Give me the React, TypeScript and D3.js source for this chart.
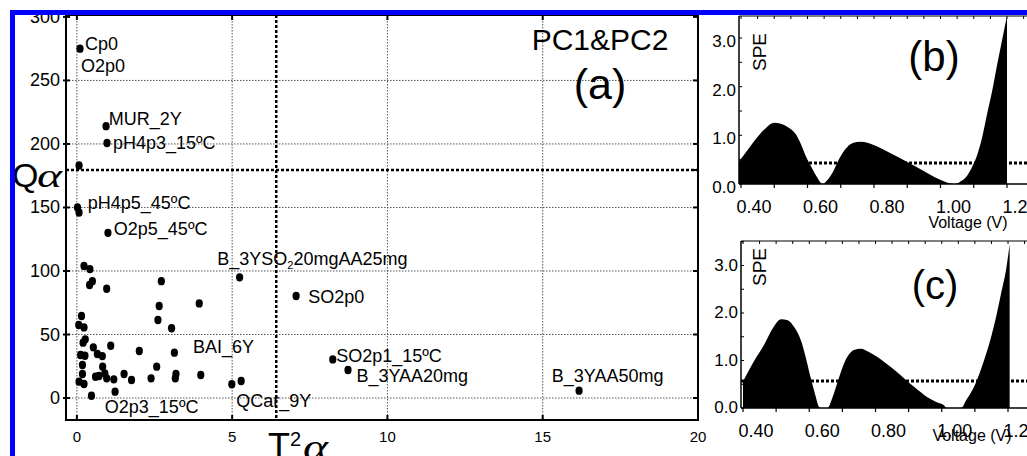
import React from 'react';
import * as d3 from 'd3';

// panel (a): PC1&PC2 scores
const T2 = [
  0.10, 0.94, 0.97, 0.07, 0.02, 0.07, 1.00, 0.23, 0.42, 0.50, 0.41, 0.96, 2.72, 2.65,
  3.94, 2.61, 3.05, 0.15, 0.06, 0.23, 0.27, 0.20, 0.53, 1.09, 2.01, 3.14, 0.12, 0.26,
  0.66, 0.82, 0.18, 0.83, 2.57, 0.18, 0.60, 0.71, 0.90, 0.96, 1.19, 1.52, 1.76, 2.39,
  3.19, 3.17, 3.99, 0.07, 0.23, 0.47, 1.23, 4.99, 5.29, 5.24, 7.06, 8.24, 8.73, 16.17,
];
const Q = [
  275, 214, 200.8, 183, 150, 146, 130, 104, 101.5, 92, 89, 86, 92, 72.4,
  74.5, 61.4, 54.9, 64.6, 57.5, 55.6, 46.2, 43.6, 39.9, 41.2, 37, 35.7, 33.9, 33.3,
  34.6, 33, 26, 24.7, 24.7, 18.9, 16.8, 17.3, 19.4, 15.5, 14.7, 18.9, 14.2, 15.5,
  18.9, 15.5, 18.1, 12.9, 11, 1.8, 5, 10.8, 13.4, 95, 80.3, 30.4, 22, 5.8,
];

const LABEL_TEXT = [
  'Cp0', 'O2p0', 'MUR_2Y', 'pH4p3_15ºC', 'pH4p5_45ºC', 'O2p5_45ºC', 'SO2p0',
  'BAI_6Y', 'QCar_9Y', 'O2p3_15ºC', 'SO2p1_15ºC', 'B_3YAA20mg', 'B_3YAA50mg',
];
const LABEL_T2 = [0.26, 0.13, 1.03, 1.16, 0.35, 1.19, 7.45, 3.74, 5.13, 0.9, 8.35, 9.0, 15.29];
const LABEL_Q = [274, 256.7, 215, 196, 148.8, 128.3, 74.8, 35.4, -7, -12, 28.3, 12.6, 12.6];
// label with subscript
const SUB_LABEL = { t2: 4.52, q: 104.7, pre: 'B_3YSO', sub: '2', post: '20mgAA25mg' };

const T2_LIMIT = 6.42;
const Q_LIMIT = 179.5;
const X_TICKS = [0, 5, 10, 15, 20];
const Y_TICKS = [0, 50, 100, 150, 200, 250, 300];

// panels (b) and (c): SPE vs voltage
const V_B = [
  0.394, 0.42, 0.444, 0.47, 0.50, 0.52, 0.545, 0.565, 0.58, 0.595, 0.61, 0.626, 0.646,
  0.66, 0.676, 0.69, 0.706, 0.72, 0.736, 0.76, 0.78, 0.81, 0.847, 0.90, 0.948, 0.98,
  1.008, 1.03, 1.043, 1.06, 1.079, 1.095, 1.109, 1.125, 1.139, 1.155, 1.17, 1.185, 1.20,
];
const SPE_B = [
  0.46, 0.70, 0.92, 1.12, 1.26, 1.24, 1.15, 1.02, 0.82, 0.57, 0.37, 0.17, 0.0,
  0.08, 0.24, 0.44, 0.64, 0.76, 0.84, 0.87, 0.85, 0.77, 0.64, 0.45, 0.27, 0.15,
  0.06, 0.01, 0.0, 0.05, 0.16, 0.35, 0.57, 0.95, 1.4, 1.9, 2.44, 2.95, 3.45,
];
const V_C = [
  0.40, 0.43, 0.463, 0.49, 0.515, 0.535, 0.555, 0.575, 0.59, 0.605, 0.618, 0.63, 0.635,
  0.655, 0.67, 0.686, 0.70, 0.716, 0.735, 0.756, 0.78, 0.807, 0.85, 0.897, 0.93, 0.958,
  0.985, 1.008, 1.015, 1.058, 1.075, 1.099, 1.12, 1.15, 1.165, 1.18, 1.195, 1.205,
];
const SPE_C = [
  0.56, 0.95, 1.32, 1.68, 1.87, 1.85, 1.70, 1.42, 1.05, 0.62, 0.28, 0.02, 0.0,
  0.0, 0.22, 0.56, 0.85, 1.09, 1.22, 1.25, 1.18, 1.07, 0.84, 0.56, 0.37, 0.22,
  0.12, 0.05, 0.0, 0.0, 0.18, 0.47, 0.85, 1.52, 1.95, 2.44, 2.95, 3.45,
];
const SPE_LIMIT_B = 0.43;
const SPE_LIMIT_C = 0.57;
const V_TICKS = [0.4, 0.6, 0.8, 1.0, 1.2];
const SPE_TICKS = [0, 1, 2, 3];

const SANS = '"Liberation Sans", Arial, sans-serif';
const SERIF = '"Liberation Serif", "Times New Roman", serif';

interface PanelProps {
  volts: number[];
  spe: number[];
  limit: number;
  tag: string;
  left: number;
  top: number;
  bottom: number;
  xRange: [number, number];
  yTop: number;
  yLabelShift: number;
  tagX: number;
  tagY: number;
  tagSize: number;
  voltX: number;
  voltY: number;
  speY: number;
}

function SpePanel(p: PanelProps) {
  const x = d3.scaleLinear().domain([0.4, 1.2]).range(p.xRange);
  const y = d3.scaleLinear().domain([0, 3]).range([p.bottom, p.yTop]);
  const pts = p.volts.map((v, i) => [v, p.spe[i]] as [number, number]);
  const area = d3.area<[number, number]>()
    .x((d) => x(d[0]))
    .y0(y(0))
    .y1((d) => y(d[1]))
    .curve(d3.curveMonotoneX);
  const right = 1040;
  const majors = d3.range(0.4, 1.31, 0.1);
  const minors = d3.range(0.4, 1.31, 0.05);
  const yMinor = d3.range(0, 3.51, 0.5);

  return (
    <g>
      <path d={area(pts) ?? ''} fill="#000" />
      <line x1={p.left} x2={right} y1={y(p.limit)} y2={y(p.limit)}
        stroke="#000" strokeWidth={3} strokeDasharray="3,2" />
      <line x1={p.left} x2={right} y1={p.top} y2={p.top} stroke="#000" strokeWidth={1.2} />
      <line x1={p.left} x2={right} y1={p.bottom} y2={p.bottom} stroke="#000" strokeWidth={1.5} />
      <line x1={p.left} x2={p.left} y1={p.top} y2={p.bottom} stroke="#000" strokeWidth={1.5} />
      {majors.map((v) => (
        <line key={'b' + v} x1={x(v)} x2={x(v)} y1={p.bottom} y2={p.bottom + 4} stroke="#000" strokeWidth={1.2} />
      ))}
      {minors.map((v) => (
        <line key={'t' + v} x1={x(v)} x2={x(v)} y1={p.top} y2={p.top + 3} stroke="#000" strokeWidth={1} />
      ))}
      {yMinor.map((v) => (
        <line key={'l' + v} x1={p.left} x2={p.left + 3} y1={y(v)} y2={y(v)} stroke="#000" strokeWidth={1} />
      ))}
      {V_TICKS.map((v) => (
        <text key={'xl' + v} x={x(v) + 13} y={p.bottom + 29} fontSize={18} textAnchor="middle"
          fontFamily={SANS}>{v.toFixed(2)}</text>
      ))}
      {SPE_TICKS.map((v) => (
        <text key={'yl' + v} x={p.left - 3} y={y(v) + p.yLabelShift + 6} fontSize={17}
          textAnchor="end" fontFamily={SANS}>{v.toFixed(1)}</text>
      ))}
      <text x={p.voltX} y={p.voltY} fontSize={16} textAnchor="middle" fontFamily={SANS}>Voltage (V)</text>
      <text transform={`translate(766,${p.speY}) rotate(-90)`} fontSize={19} textAnchor="middle"
        fontFamily={SANS}>SPE</text>
      <text x={p.tagX} y={p.tagY} fontSize={p.tagSize} textAnchor="middle" fontFamily={SANS}>{p.tag}</text>
    </g>
  );
}

export default function App() {
  const xA = d3.scaleLinear().domain([-0.35, 20]).range([66, 698]);
  const yA = d3.scaleLinear().domain([-17.3, 301.5]).range([420, 15]);
  const [L, R] = xA.range();
  const [B, T] = yA.range();

  return (
    <svg width={1027} height={456} style={{ position: 'absolute', left: 0, top: 0, background: '#fff' }}>
      {/* panel (a) grid */}
      {X_TICKS.slice(0, 4).map((v) => (
        <line key={'gx' + v} x1={xA(v)} x2={xA(v)} y1={T} y2={B} stroke="#555" strokeWidth={1} strokeDasharray="1.5,1.5" />
      ))}
      {Y_TICKS.slice(0, 6).map((v) => (
        <line key={'gy' + v} x1={L} x2={R} y1={yA(v)} y2={yA(v)} stroke="#555" strokeWidth={1} strokeDasharray="1.5,1.5" />
      ))}
      {/* control limits */}
      <line x1={xA(T2_LIMIT)} x2={xA(T2_LIMIT)} y1={T} y2={B} stroke="#000" strokeWidth={2.5} strokeDasharray="3,2" />
      <line x1={L} x2={R} y1={yA(Q_LIMIT)} y2={yA(Q_LIMIT)} stroke="#000" strokeWidth={2.5} strokeDasharray="3,2" />

      {/* frame + ticks */}
      <rect x={L} y={T} width={R - L} height={B - T} fill="none" stroke="#000" strokeWidth={2} />
      {X_TICKS.map((v) => (
        <g key={'tx' + v}>
          <line x1={xA(v)} x2={xA(v)} y1={B} y2={B - 5} stroke="#000" strokeWidth={2} />
          <line x1={xA(v)} x2={xA(v)} y1={T} y2={T + 5} stroke="#000" strokeWidth={2} />
          <text x={xA(v)} y={442} fontSize={15} textAnchor="middle" fontFamily={SANS}>{v}</text>
        </g>
      ))}
      {Y_TICKS.map((v) => (
        <g key={'ty' + v}>
          <line x1={L - 3} x2={L + 4} y1={yA(v)} y2={yA(v)} stroke="#000" strokeWidth={2} />
          <line x1={R} x2={R - 5} y1={yA(v)} y2={yA(v)} stroke="#000" strokeWidth={2} />
          <text x={60} y={yA(v) + 6} fontSize={18} textAnchor="end" fontFamily={SANS}>{v}</text>
        </g>
      ))}
      <line x1={R} x2={R - 5} y1={yA(Q_LIMIT)} y2={yA(Q_LIMIT)} stroke="#000" strokeWidth={2} />

      {/* points */}
      {T2.map((t, i) => (
        <ellipse key={'p' + i} cx={xA(t)} cy={yA(Q[i])} rx={3.6} ry={4.2} fill="#000" />
      ))}
      {LABEL_TEXT.map((s, i) => (
        <text key={'lb' + i} x={xA(LABEL_T2[i])} y={yA(LABEL_Q[i])} fontSize={18} fontFamily={SANS}>{s}</text>
      ))}
      <text x={xA(SUB_LABEL.t2)} y={yA(SUB_LABEL.q)} fontSize={18} fontFamily={SANS}>
        {SUB_LABEL.pre}
        <tspan fontSize={11} dy={4}>{SUB_LABEL.sub}</tspan>
        <tspan dy={-4}>{SUB_LABEL.post}</tspan>
      </text>

      <text x={600} y={50} fontSize={30} textAnchor="middle" fontFamily={SANS}>PC1&amp;PC2</text>
      <text x={600} y={99} fontSize={43} textAnchor="middle" fontFamily={SANS}>(a)</text>

      {/* axis titles */}
      <text x={12} y={187} fontSize={34} fontFamily={SANS}>Q</text>
      <text x={37} y={187} fontSize={34} fontStyle="italic" fontFamily={SERIF}
        textLength={25} lengthAdjust="spacingAndGlyphs">α</text>
      <text x={268} y={459} fontSize={36} fontFamily={SANS}>T</text>
      <text x={290} y={446} fontSize={20} fontFamily={SANS}>2</text>
      <text x={303} y={459} fontSize={36} fontStyle="italic" fontFamily={SERIF}
        textLength={25} lengthAdjust="spacingAndGlyphs">α</text>

      <SpePanel volts={V_B} spe={SPE_B} limit={SPE_LIMIT_B} tag="(b)" left={739} top={16} bottom={184}
        xRange={[741, 1007]} yTop={38} yLabelShift={3} tagX={934} tagY={71} tagSize={42}
        voltX={968} voltY={228} speY={52} />
      <SpePanel volts={V_C} spe={SPE_C} limit={SPE_LIMIT_C} tag="(c)" left={741} top={241} bottom={408}
        xRange={[743, 1008]} yTop={265.5} yLabelShift={-1} tagX={935} tagY={299} tagSize={40}
        voltX={972} voltY={441} speY={267} />

      {/* outer blue border */}
      <rect x={12.5} y={12.5} width={1100} height={600} fill="none" stroke="#0000ff" strokeWidth={5} />
    </svg>
  );
}
